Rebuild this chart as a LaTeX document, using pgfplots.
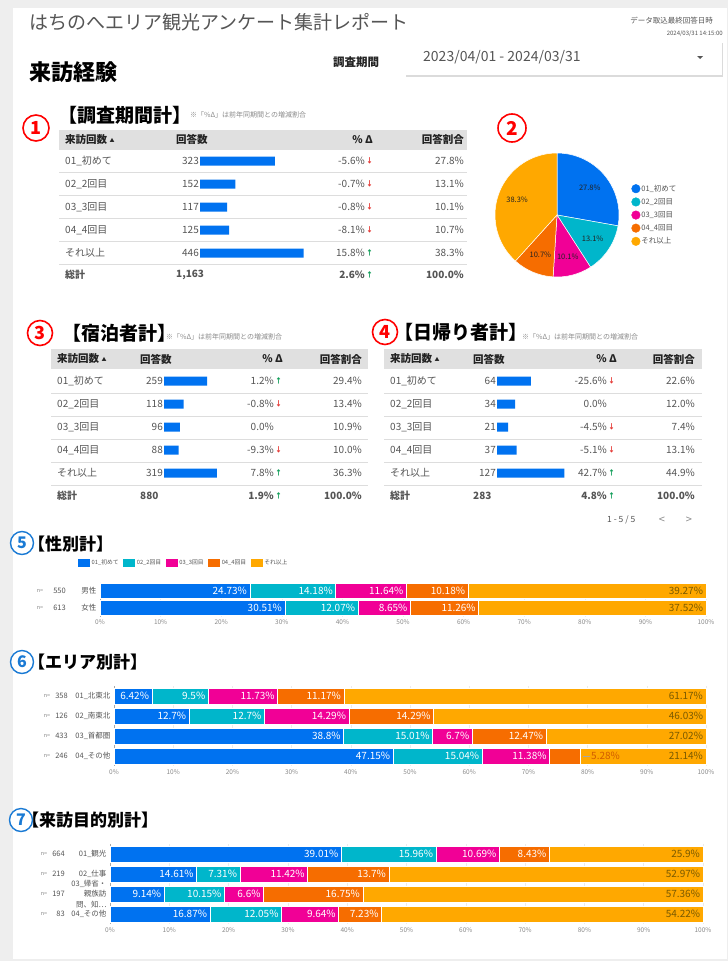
\documentclass[border=0pt]{standalone}
\usepackage{fontspec}
\setmainfont{Noto Sans CJK JP}
\usepackage{pgfplots}
\pgfplotsset{compat=1.18}
\definecolor{c1}{HTML}{0072F0}
\definecolor{c2}{HTML}{00B6CB}
\definecolor{c3}{HTML}{F10096}
\definecolor{c4}{HTML}{F66D00}
\definecolor{c5}{HTML}{FFA800}
\definecolor{bgg}{HTML}{EEEEEE}
\definecolor{hdr}{HTML}{E0E0E0}
\definecolor{sep}{HTML}{DDDDDD}
\definecolor{tdark}{HTML}{222222}
\definecolor{tgray}{HTML}{555555}
\definecolor{tlight}{HTML}{8A8A8A}
\definecolor{upg}{HTML}{0F9D58}
\definecolor{dnr}{HTML}{E53935}
\definecolor{ylab}{HTML}{7A5A00}
\definecolor{cred}{HTML}{FF0000}
\definecolor{cblue}{HTML}{1A7AD4}
\definecolor{gridc}{HTML}{EBEBEB}
\newcommand\fs[1]{\fontsize{#1}{#1}\selectfont}
\newcommand\up{\textcolor{upg}{↑}}
\newcommand\dn{\textcolor{dnr}{↓}}
\newcommand\trow[6]{%
  \node[tx,anchor=west] at (\cA,#1) {#2};
  \node[tx,anchor=east] at (\cB,#1) {#3};
  \node[tx,anchor=east] at (\cC,#1) {#4};
  \node[anchor=west,inner sep=0pt,font=\fs{7}\bfseries] at ({\cC+1},#1) {#5};
  \node[tx,anchor=east] at (\cD,#1) {#6};
}
\newcommand\ttot[5]{%
  \node[tx,anchor=west,font=\fs{10}\bfseries] at (\cA,#1) {総計};
  \node[tx,anchor=west,font=\fs{10}\bfseries] at (\cE,#1) {#2};
  \node[tx,anchor=east,font=\fs{10}\bfseries] at (\cC,#1) {#3};
  \node[anchor=west,inner sep=0pt,font=\fs{7}\bfseries] at ({\cC+1},#1) {#4};
  \node[tx,anchor=east,font=\fs{10}\bfseries] at (\cD,#1) {#5};
}
\newcommand\thead[7]{%
  \fill[hdr] (#2,{#1-10}) rectangle (#3,{#1+10});
  \node[hd,anchor=west] at (#4,#1) {来訪回数 \raisebox{1pt}{\fs{5}▲}};
  \node[hd,anchor=west] at (#5,#1) {回答数};
  \node[hd,anchor=east] at (#6,#1) {\% Δ};
  \node[hd,anchor=east] at (#7,#1) {回答割合};
}
\pgfplotsset{
 tb/.style={scale only axis, xbar, hide axis, xmin=0, ymin=-0.5, ymax=4.5, y dir=reverse,
   bar width=9pt, height=115pt, anchor=north west, clip=false},
 stk/.style={
  scale only axis, xbar stacked, xmin=0, xmax=100, y dir=reverse, anchor=north west,
  xtick={0,10,...,100}, xticklabel={\pgfmathprintnumber{\tick}\%},
  /pgf/number format/assume math mode=true,
  xticklabel style={font=\fs{6.5}, text=tlight},
  yticklabel style={font=\fontsize{7.5}{10.5}\selectfont, text=tgray, align=right},
  xmajorgrids, grid style={gridc, line width=0.6pt},
  axis line style={draw=none}, major tick length=0pt,
  point meta=explicit symbolic,
  visualization depends on={rawx \as \rx},
  nodes near coords={\makebox[0pt][r]{\pgfplotspointmeta\%\hspace{3pt}}},
  every node near coord/.append style={font=\fs{10}, text=white, inner sep=0pt},
  every axis plot/.append style={draw=white, line width=0.6pt},
  clip=false,
 },
 half/.style={every node near coord/.append style={xshift={\rx*#1pt}}}
}
\begin{document}
\begin{tikzpicture}
\begin{scope}[x=1pt,y=-1pt,
  tx/.style={inner sep=0pt,text=tgray,font=\fs{10}},
  hd/.style={inner sep=0pt,text=tdark,font=\fs{10.5}\bfseries}]
% background card
\fill[bgg] (0,0) rectangle (728,961);
\fill[white] (13,8) rectangle (727,959);
% header
\node[anchor=west,inner sep=0pt,text=tgray] at (29,22) {\fs{19}はちのへエリア観光アンケート集計レポート};
\node[anchor=east,inner sep=0pt,text=tgray] at (713,21) {\fs{7.5}データ取込最終回答日時};
\node[anchor=east,inner sep=0pt,text=tgray] at (723,34) {\fs{6}2024/03/31 14:15:00};
\fill[black!14] (406,43) rectangle (723,77);
\fill[white] (404,41) rectangle (722,75);
\node[anchor=west,inner sep=0pt,text=tgray] at (423,57) {\fs{14}2023/04/01 - 2024/03/31};
\fill[tgray] (697,56) -- (703,56) -- (700,59) -- cycle;
\node[inner sep=0pt,text=tdark] at (356,62) {\fs{11.5}\bfseries 調査期間};
\node[anchor=west,inner sep=0pt,text=black] at (29,72) {\fs{22}\bfseries 来訪経験};

% ---------- section 1
\node[circle,draw=cred,line width=1.6pt,text=cred,inner sep=0pt,minimum size=26pt,font=\fs{18}\bfseries] at (36,128) {1};
\node[anchor=west,inner sep=0pt,text=black] at (58,115) {\fs{19}\bfseries 【調査期間計】};
\node[anchor=west,inner sep=0pt,text=tlight] at (190,115) {\fs{7}※「\%Δ」は前年同期間との増減割合};
\thead{139.5}{59}{467}{65}{176}{373}{464}
\foreach \yy in {172,195,218,241,264} \draw[sep,line width=0.7pt] (59,\yy) -- (467,\yy);
\def\cA{65}\def\cB{199}\def\cC{365}\def\cD{464}\def\cE{176}
\trow{161}{01\_初めて}{323}{-5.6\%}{\dn}{27.8\%}
\trow{184}{02\_2回目}{152}{-0.7\%}{\dn}{13.1\%}
\trow{207}{03\_3回目}{117}{-0.8\%}{\dn}{10.1\%}
\trow{230}{04\_4回目}{125}{-8.1\%}{\dn}{10.7\%}
\trow{253}{それ以上}{446}{15.8\%}{\up}{38.3\%}
\ttot{275}{1,163}{2.6\%}{\up}{100.0\%}

\node[circle,draw=cred,line width=1.6pt,text=cred,inner sep=0pt,minimum size=28pt,font=\fs{19}\bfseries] at (512,128) {2};

% ---------- section 3
\node[circle,draw=cred,line width=1.6pt,text=cred,inner sep=0pt,minimum size=25pt,font=\fs{18}\bfseries] at (40,333) {3};
\node[anchor=west,inner sep=0pt,text=black] at (62,333) {\fs{19}\bfseries 【宿泊者計】};
\node[anchor=west,inner sep=0pt,text=tlight] at (166,337) {\fs{7}※「\%Δ」は前年同期間との増減割合};
\thead{359}{51}{368}{57}{140}{283}{362}
\foreach \yy in {393,416,439,462,485} \draw[sep,line width=0.7pt] (51,\yy) -- (368,\yy);
\def\cA{57}\def\cB{163}\def\cC{274}\def\cD{362}\def\cE{140}
\trow{381}{01\_初めて}{259}{1.2\%}{\up}{29.4\%}
\trow{404}{02\_2回目}{118}{-0.8\%}{\dn}{13.4\%}
\trow{427}{03\_3回目}{96}{0.0\%}{}{10.9\%}
\trow{450}{04\_4回目}{88}{-9.3\%}{\dn}{10.0\%}
\trow{473}{それ以上}{319}{7.8\%}{\up}{36.3\%}
\ttot{496}{880}{1.9\%}{\up}{100.0\%}

% ---------- section 4
\node[circle,draw=cred,line width=1.6pt,text=cred,inner sep=0pt,minimum size=25pt,font=\fs{18}\bfseries] at (385,332) {4};
\node[anchor=west,inner sep=0pt,text=black] at (394,332) {\fs{19}\bfseries 【日帰り者計】};
\node[anchor=west,inner sep=0pt,text=tlight] at (522,337) {\fs{7}※「\%Δ」は前年同期間との増減割合};
\thead{359}{384}{702}{390}{473}{617}{695}
\foreach \yy in {393,416,439,462,485} \draw[sep,line width=0.7pt] (384,\yy) -- (702,\yy);
\def\cA{390}\def\cB{496}\def\cC{607}\def\cD{695}\def\cE{473}
\trow{381}{01\_初めて}{64}{-25.6\%}{\dn}{22.6\%}
\trow{404}{02\_2回目}{34}{0.0\%}{}{12.0\%}
\trow{427}{03\_3回目}{21}{-4.5\%}{\dn}{7.4\%}
\trow{450}{04\_4回目}{37}{-5.1\%}{\dn}{13.1\%}
\trow{473}{それ以上}{127}{42.7\%}{\up}{44.9\%}
\ttot{496}{283}{4.8\%}{\up}{100.0\%}
\node[tx,anchor=west,font=\fs{8.5}] at (607,520) {1 - 5 / 5};
\node[tx,font=\fs{11},text=tlight] at (662,520) {<};
\node[tx,font=\fs{11},text=tlight] at (689,520) {>};

% ---------- titles 5-7
\node[circle,draw=cblue,line width=1.4pt,text=cblue,fill=white,inner sep=0pt,minimum size=23pt,font=\fs{16}\bfseries] at (22,543) {5};
\node[anchor=west,inner sep=0pt,text=black] at (28,544) {\fs{17}\bfseries 【性別計】};
\node[tx,font=\fs{5.5},text=tlight] at (40,591) {n=};
\node[tx,anchor=east,font=\fs{7.5}] at (66,591) {550};
\node[tx,font=\fs{5.5},text=tlight] at (40,608) {n=};
\node[tx,anchor=east,font=\fs{7.5}] at (66,608) {613};

\node[circle,draw=cblue,line width=1.4pt,text=cblue,fill=white,inner sep=0pt,minimum size=23pt,font=\fs{16}\bfseries] at (22,662) {6};
\node[anchor=west,inner sep=0pt,text=black] at (28,662) {\fs{17}\bfseries 【エリア別計】};
\foreach \yy/\nn in {696/358,716/126,736/433,756/246}{
  \node[tx,font=\fs{5.5},text=tlight] at (47,\yy) {n=};
  \node[tx,anchor=east,font=\fs{7.5}] at (68,\yy) {\nn};}

\node[circle,draw=cblue,line width=1.4pt,text=cblue,fill=white,inner sep=0pt,minimum size=23pt,font=\fs{16}\bfseries] at (21,820) {7};
\node[anchor=west,inner sep=0pt,text=black] at (22,820) {\fs{17}\bfseries 【来訪目的別計】};
\foreach \yy/\nn in {854/664,874/219,894/197,914/83}{
  \node[tx,font=\fs{5.5},text=tlight] at (44,\yy) {n=};
  \node[tx,anchor=east,font=\fs{7.5}] at (65,\yy) {\nn};}
\end{scope}

% ================= pgfplots axes (positions in pt, y downward negated)
\begin{axis}[tb, at={(200pt,-149.5pt)}, width=104pt, xmax=448]
\addplot[fill=c1, draw=none] coordinates {(323,0) (152,1) (117,2) (125,3) (446,4)};
\end{axis}
\begin{axis}[tb, at={(164pt,-369.5pt)}, width=54.8pt, xmax=330]
\addplot[fill=c1, draw=none] coordinates {(259,0) (118,1) (96,2) (88,3) (319,4)};
\end{axis}
\begin{axis}[tb, at={(497pt,-369.5pt)}, width=68.9pt, xmax=130]
\addplot[fill=c1, draw=none] coordinates {(64,0) (34,1) (21,2) (37,3) (127,4)};
\end{axis}

% pie
\begin{axis}[at={(557pt,-215pt)}, anchor=center, scale only axis, width=124pt, height=124pt,
  xmin=-1, xmax=1, ymin=-1, ymax=1, hide axis, clip=false,
  legend style={at={(1.1,0.5)}, anchor=west, draw=none, fill=none, font=\fs{7.5}, text=tgray,
    inner sep=0pt, row sep=3.2pt, legend cell align=left,
    nodes={inner sep=1.2pt}}]
\fill[c1,draw=white,line width=0.5pt] (axis cs:0,0) -- (axis cs:0,1) arc[start angle=90, end angle=-10.08, radius=1] -- cycle;
\fill[c2,draw=white,line width=0.5pt] (axis cs:0,0) -- (axis cs:{cos(-10.08)},{sin(-10.08)}) arc[start angle=-10.08, end angle=-57.24, radius=1] -- cycle;
\fill[c3,draw=white,line width=0.5pt] (axis cs:0,0) -- (axis cs:{cos(-57.24)},{sin(-57.24)}) arc[start angle=-57.24, end angle=-93.6, radius=1] -- cycle;
\fill[c4,draw=white,line width=0.5pt] (axis cs:0,0) -- (axis cs:{cos(-93.6)},{sin(-93.6)}) arc[start angle=-93.6, end angle=-132.12, radius=1] -- cycle;
\fill[c5,draw=white,line width=0.5pt] (axis cs:0,0) -- (axis cs:{cos(-132.12)},{sin(-132.12)}) arc[start angle=-132.12, end angle=-270, radius=1] -- cycle;
\node[font=\fs{7.5},text=tdark] at (axis cs:{0.69*cos(39.96)},{0.69*sin(39.96)}) {27.8\%};
\node[font=\fs{7.5},text=tdark] at (axis cs:{0.69*cos(-33.66)},{0.69*sin(-33.66)}) {13.1\%};
\node[font=\fs{7.5},text=tdark] at (axis cs:{0.69*cos(-75.42)},{0.69*sin(-75.42)}) {10.1\%};
\node[font=\fs{7.5},text=tdark] at (axis cs:{0.69*cos(-112.86)},{0.69*sin(-112.86)}) {10.7\%};
\node[font=\fs{7.5},text=tdark] at (axis cs:{0.69*cos(-201.06)},{0.69*sin(-201.06)}) {38.3\%};
\addlegendimage{only marks, mark=*, mark size=4.3pt, mark options={draw=c1,fill=c1}}
\addlegendentry{01\_初めて}
\addlegendimage{only marks, mark=*, mark size=4.3pt, mark options={draw=c2,fill=c2}}
\addlegendentry{02\_2回目}
\addlegendimage{only marks, mark=*, mark size=4.3pt, mark options={draw=c3,fill=c3}}
\addlegendentry{03\_3回目}
\addlegendimage{only marks, mark=*, mark size=4.3pt, mark options={draw=c4,fill=c4}}
\addlegendentry{04\_4回目}
\addlegendimage{only marks, mark=*, mark size=4.3pt, mark options={draw=c5,fill=c5}}
\addlegendentry{それ以上}
\end{axis}

% chart 5
\begin{axis}[stk, half=3.03, at={(100pt,-582.5pt)}, width=606pt, height=34pt, bar width=15.5pt,
  ymin=-0.5, ymax=1.5, ytick={0,1}, yticklabels={男性,女性},
  legend style={at={(-0.0363,1.574)}, anchor=west, draw=none, fill=none, font=\fs{5.8}, text=tgray,
    legend columns=5, inner sep=0pt, /tikz/every even column/.append style={column sep=3pt},
    nodes={inner sep=1.5pt}},
  legend image code/.code={\fill[#1,draw=none] (0pt,-4pt) rectangle (12pt,4pt);}]
\addplot[fill=c1] coordinates {(24.73,0) [24.73] (30.51,1) [30.51]};
\addplot[fill=c2] coordinates {(14.18,0) [14.18] (12.07,1) [12.07]};
\addplot[fill=c3] coordinates {(11.64,0) [11.64] (8.65,1) [8.65]};
\addplot[fill=c4] coordinates {(10.18,0) [10.18] (11.26,1) [11.26]};
\addplot[fill=c5, every node near coord/.append style={text=ylab}] coordinates {(39.27,0) [39.27] (37.52,1) [37.52]};
\legend{01\_初めて,02\_2回目,03\_3回目,04\_4回目,それ以上}
\draw[gray!70] (axis cs:0,-0.5) -- (axis cs:0,1.5);
\end{axis}

% chart 6
\begin{axis}[stk, half=2.96, at={(114pt,-686pt)}, width=592pt, height=80pt, bar width=16pt,
  ymin=-0.5, ymax=3.5, ytick={0,1,2,3}, yticklabels={01\_北東北,02\_南東北,03\_首都圏,04\_その他}]
\addplot[fill=c1] coordinates {(6.42,0) [6.42] (12.7,1) [12.7] (38.8,2) [38.8] (47.15,3) [47.15]};
\addplot[fill=c2] coordinates {(9.5,0) [9.5] (12.7,1) [12.7] (15.01,2) [15.01] (15.04,3) [15.04]};
\addplot[fill=c3] coordinates {(11.73,0) [11.73] (14.29,1) [14.29] (6.7,2) [6.7] (11.38,3) [11.38]};
\addplot[fill=c4, nodes near coords={\makebox[0pt][r]{\pgfplotspointmeta\hspace{3pt}}}] coordinates {(11.17,0) [11.17\%] (14.29,1) [14.29\%] (12.47,2) [12.47\%] (5.28,3) [\mbox{}]};
\addplot[fill=c5, every node near coord/.append style={text=ylab}] coordinates {(61.17,0) [61.17] (46.03,1) [46.03] (27.02,2) [27.02] (21.14,3) [21.14]};
\draw[gray!70] (axis cs:0,-0.5) -- (axis cs:0,3.5);
\end{axis}

% chart 7
\begin{axis}[stk, half=2.965, at={(110pt,-844pt)}, width=593pt, height=80pt, bar width=16pt,
  ymin=-0.5, ymax=3.5, ytick={0,1,2,3}, yticklabels={01\_観光,02\_仕事,{03\_帰省・\\親族訪\\問、知…},04\_その他}]
\addplot[fill=c1] coordinates {(39.01,0) [39.01] (14.61,1) [14.61] (9.14,2) [9.14] (16.87,3) [16.87]};
\addplot[fill=c2] coordinates {(15.96,0) [15.96] (7.31,1) [7.31] (10.15,2) [10.15] (12.05,3) [12.05]};
\addplot[fill=c3] coordinates {(10.69,0) [10.69] (11.42,1) [11.42] (6.6,2) [6.6] (9.64,3) [9.64]};
\addplot[fill=c4] coordinates {(8.43,0) [8.43] (13.7,1) [13.7] (16.75,2) [16.75] (7.23,3) [7.23]};
\addplot[fill=c5, every node near coord/.append style={text=ylab}] coordinates {(25.9,0) [25.9] (52.97,1) [52.97] (57.36,2) [57.36] (54.22,3) [54.22]};
\draw[gray!70] (axis cs:0,-0.5) -- (axis cs:0,3.5);
\end{axis}

% outside label for the narrow 5.28% segment (chart 6, row 4)
\begin{scope}[x=1pt,y=-1pt]
\draw[gray!70,line width=0.6pt] (582.5,756) -- (590,756);
\node[anchor=west,inner sep=1pt,font=\fs{10},text=c4!85!black] at (590,756) {5.28\%};
\end{scope}

\pgfresetboundingbox
\path (0pt,0pt) rectangle (728pt,-961pt);
\end{tikzpicture}
\end{document}
